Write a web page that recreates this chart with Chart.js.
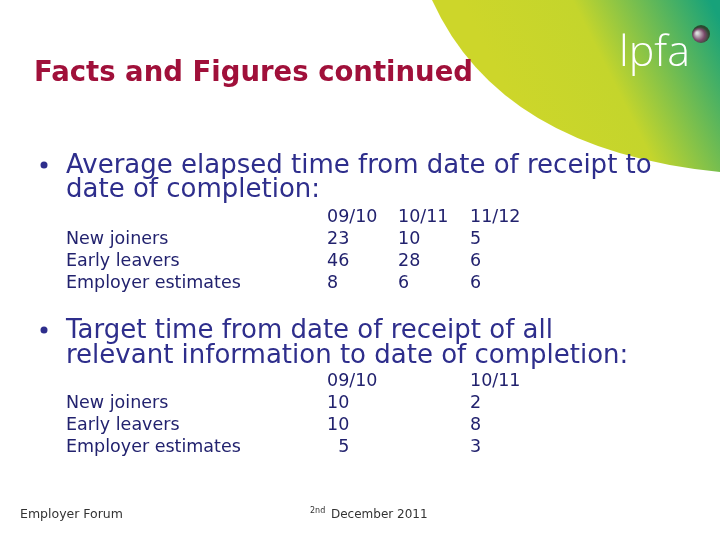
<!DOCTYPE html>
<html><head><meta charset="utf-8">
<script src="https://cdn.jsdelivr.net/npm/chart.js@4"></script>
<style>html,body{margin:0;padding:0;background:#fff}#w{width:720px;height:540px}</style>
</head><body><div id="w"><canvas id="c" width="720" height="540"></canvas></div>
<script>
const rows = ["New joiners","Early leavers","Employer estimates"];
const years1 = ["09/10","10/11","11/12"];
const vals1 = [[23,10,5],[46,28,6],[8,6,6]];
const years2 = ["09/10","10/11"];
const vals2 = [[10,2],[10,8],[5,3]];

const slide = {
  id:'slide',
  beforeDraw(chart){
    const ctx = chart.ctx;
    ctx.save();
    ctx.fillStyle='#fff';ctx.fillRect(0,0,720,540);
    const g = ctx.createLinearGradient(520,120,720,20);
    g.addColorStop(0,'#cdd62a');g.addColorStop(0.45,'#c4d52c');g.addColorStop(1,'#17a27a');
    ctx.fillStyle=g;
    ctx.beginPath();ctx.moveTo(432,0);ctx.quadraticCurveTo(500,150,720,172);ctx.lineTo(720,0);ctx.closePath();ctx.fill();
    ctx.fillStyle='#fff';ctx.font='300 43px "Open Sans"';ctx.textBaseline='alphabetic';
    ctx.fillText('lpfa',619,66);
    const rg = ctx.createRadialGradient(697,33,1,700,36,9);
    rg.addColorStop(0,'#ddd');rg.addColorStop(0.6,'#7a4a6a');rg.addColorStop(1,'#2a4a30');
    ctx.fillStyle=rg;ctx.beginPath();ctx.arc(701,34,9,0,Math.PI*2);ctx.fill();
    ctx.fillStyle='#a0103a';ctx.font='bold 27.5px "DejaVu Sans"';
    ctx.fillText('Facts and Figures continued',34,81);
    const blue='#2e2e8c';
    ctx.fillStyle=blue;
    ctx.beginPath();ctx.arc(44,165,3.5,0,Math.PI*2);ctx.fill();
    ctx.beginPath();ctx.arc(44,330,3.5,0,Math.PI*2);ctx.fill();
    ctx.font='26px "DejaVu Sans"';
    ctx.fillText('Average elapsed time from date of receipt to',66,173);
    ctx.fillText('date of completion:',66,197);
    ctx.fillText('Target time from date of receipt of all',66,338);
    ctx.fillText('relevant information to date of completion:',66,363);
    ctx.font='17.5px "DejaVu Sans"';ctx.fillStyle='#22226e';
    const c1=[327,398,470];
    years1.forEach((y,i)=>ctx.fillText(y,c1[i],222));
    rows.forEach((r,j)=>{const yy=244+j*22;ctx.fillText(r,66,yy);
      vals1[j].forEach((v,i)=>ctx.fillText(String(v),c1[i],yy));});
    const c2=[327,470];
    years2.forEach((y,i)=>ctx.fillText(y,c2[i],386));
    rows.forEach((r,j)=>{const yy=408+j*22;ctx.fillText(r,66,yy);
      vals2[j].forEach((v,i)=>ctx.fillText((j==2&&i==0?'  ':'')+String(v),c2[i],yy));});
    ctx.fillStyle='#333';ctx.font='12.5px "DejaVu Sans"';
    ctx.fillText('Employer Forum',20,518);
    ctx.font='12px "DejaVu Sans"';
    ctx.fillText('December 2011',331,518);
    ctx.font='8px "DejaVu Sans"';ctx.fillText('2nd',310,513);
    ctx.restore();
  }
};
new Chart(document.getElementById('c'),{
  type:'bar',
  data:{labels:years1,datasets:[{data:vals1[0],backgroundColor:'rgba(0,0,0,0)'}]},
  options:{responsive:false,animation:false,events:[],
    plugins:{legend:{display:false},tooltip:{enabled:false}},
    scales:{x:{display:false},y:{display:false}}},
  plugins:[slide]
});
</script></body></html>
